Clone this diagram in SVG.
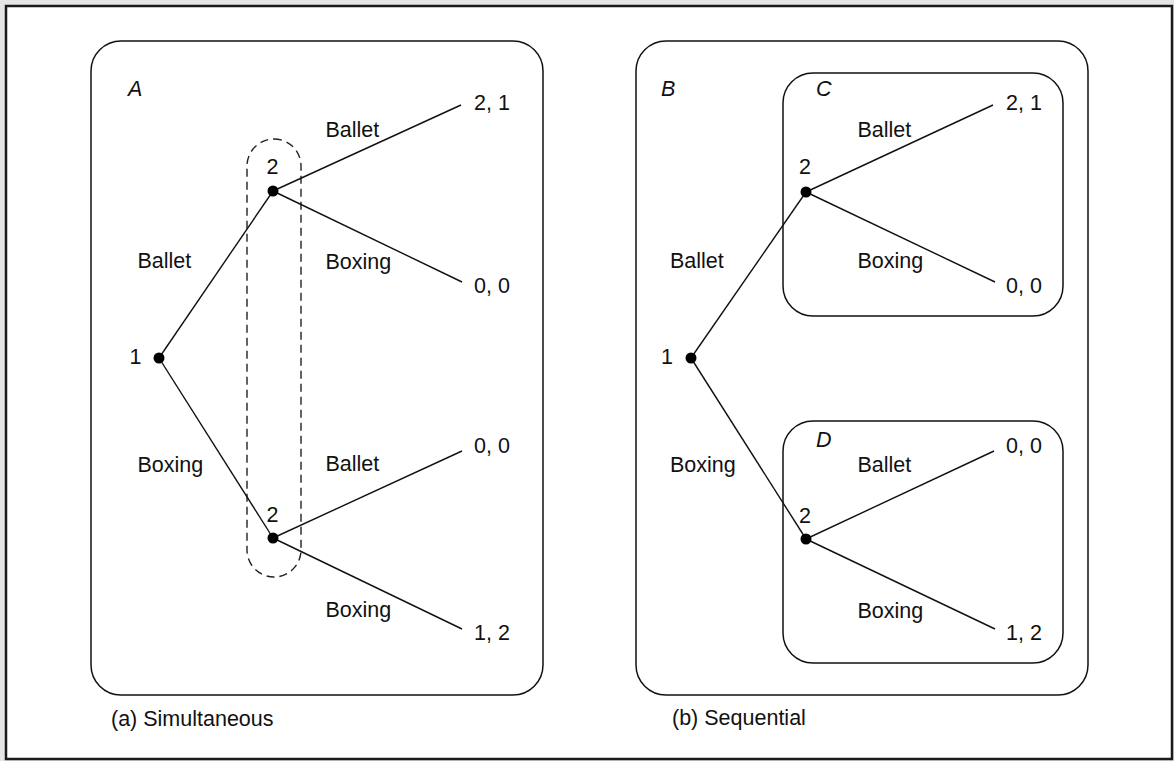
<svg xmlns="http://www.w3.org/2000/svg" width="1174" height="761" viewBox="0 0 1174 761">
<style>
text{font-family:"Liberation Sans",Arial,Helvetica,sans-serif;font-size:21.5px;fill:#111}
.it{font-style:italic}
.panel{fill:none;stroke:#111;stroke-width:1.5}
.edge{stroke:#111;stroke-width:1.4;fill:none}
.dot{fill:#000}
.info{fill:none;stroke:#222;stroke-width:1.4;stroke-dasharray:8 5}
</style>
<rect x="0" y="0" width="1174" height="761" fill="#e5e5e5"/>
<rect x="6" y="6" width="1166" height="753" fill="#fff" stroke="#1a1a1a" stroke-width="2.5"/>

<g id="panel-a">
<rect class="panel" x="91" y="41" width="452" height="654" rx="30" ry="30"/>
<text class="it" x="128" y="96">A</text>
<rect id="info-set" class="info" x="247" y="139" width="54" height="438" rx="27" ry="27"/>
</g>
<g id="panel-b">
<rect class="panel" x="636" y="41" width="452" height="654" rx="30" ry="30"/>
<text class="it" x="661" y="96">B</text>
</g>
<g id="panel-c">
<rect class="panel" x="783" y="73" width="280" height="243" rx="30" ry="30"/>
<text class="it" x="816" y="96">C</text>
</g>
<g id="panel-d">
<rect class="panel" x="783" y="421" width="280" height="242" rx="30" ry="30"/>
<text class="it" x="816" y="447">D</text>
</g>

<g id="connectors">
<line class="edge" x1="159" y1="358" x2="273" y2="191"/>
<line class="edge" x1="159" y1="358" x2="273" y2="538"/>
<line class="edge" x1="273" y1="191" x2="461" y2="105"/>
<line class="edge" x1="273" y1="191" x2="462" y2="282"/>
<line class="edge" x1="273" y1="538" x2="462" y2="451"/>
<line class="edge" x1="273" y1="538" x2="462" y2="629"/>
<line class="edge" x1="691" y1="358" x2="806" y2="192"/>
<line class="edge" x1="691" y1="358" x2="806" y2="539"/>
<line class="edge" x1="806" y1="192" x2="993" y2="105"/>
<line class="edge" x1="806" y1="192" x2="995" y2="282"/>
<line class="edge" x1="806" y1="539" x2="994" y2="451"/>
<line class="edge" x1="806" y1="539" x2="995" y2="629"/>
</g>

<g id="a-node-1"><circle class="dot" cx="159" cy="358" r="5.5"/><text x="129.5" y="364">1</text></g>
<g id="a-node-2-top"><circle class="dot" cx="273" cy="191" r="5.5"/><text x="266.5" y="174">2</text></g>
<g id="a-node-2-bottom"><circle class="dot" cx="273" cy="538" r="5.5"/><text x="266.5" y="522">2</text></g>
<g id="a-labels">
<text x="137.5" y="268">Ballet</text>
<text x="137.5" y="471.5">Boxing</text>
<text x="325.5" y="137">Ballet</text>
<text x="325.5" y="269">Boxing</text>
<text x="325.5" y="471">Ballet</text>
<text x="325.5" y="617">Boxing</text>
</g>
<g id="a-payoffs">
<text x="474" y="110">2, 1</text>
<text x="474" y="293">0, 0</text>
<text x="474" y="453">0, 0</text>
<text x="474" y="640">1, 2</text>
</g>

<g id="b-node-1"><circle class="dot" cx="691" cy="358" r="5.5"/><text x="661" y="364">1</text></g>
<g id="b-node-2-top"><circle class="dot" cx="806" cy="192" r="5.5"/><text x="799" y="174">2</text></g>
<g id="b-node-2-bottom"><circle class="dot" cx="806" cy="539" r="5.5"/><text x="799" y="522.5">2</text></g>
<g id="b-labels">
<text x="670" y="268">Ballet</text>
<text x="670" y="471.5">Boxing</text>
<text x="857.5" y="137">Ballet</text>
<text x="857.5" y="268">Boxing</text>
<text x="857.5" y="471.5">Ballet</text>
<text x="857.5" y="618">Boxing</text>
</g>
<g id="b-payoffs">
<text x="1006" y="110">2, 1</text>
<text x="1006" y="293">0, 0</text>
<text x="1006" y="453">0, 0</text>
<text x="1006" y="640">1, 2</text>
</g>

<g id="captions">
<text x="111" y="726">(a) Simultaneous</text>
<text x="672" y="725">(b) Sequential</text>
</g>
</svg>
